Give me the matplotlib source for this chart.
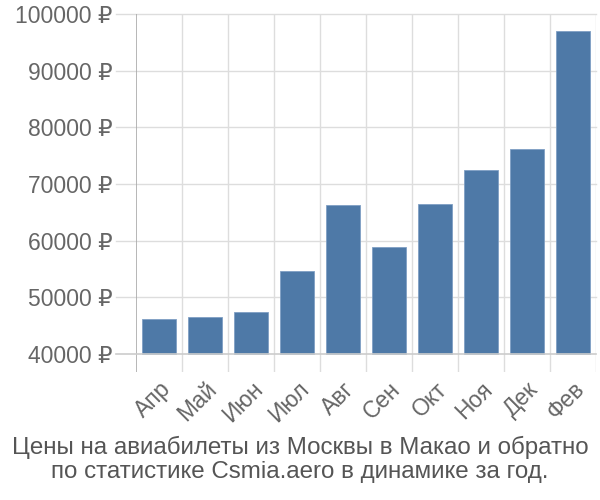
import matplotlib
matplotlib.use('Agg')
import matplotlib.pyplot as plt
import numpy as np

plt.rcParams['font.family'] = ['Liberation Sans', 'DejaVu Sans']

months = ['Апр', 'Май', 'Июн', 'Июл', 'Авг', 'Сен', 'Окт', 'Ноя', 'Дек', 'Фев']
prices = [46200, 46500, 47400, 54700, 66300, 58900, 66500, 72500, 76200, 97000]
yticks = [40000, 50000, 60000, 70000, 80000, 90000, 100000]
base = 40000

fig = plt.figure(figsize=(6, 5), dpi=100)
ax = fig.add_axes([136/600, 1-372/500, 460/600, 358/500])

x = np.arange(len(months))
ax.bar(x, [p - base for p in prices], bottom=base, width=0.72,
       color='#4e79a7', edgecolor='#7f9fc4', linewidth=0.6, zorder=3)

ax.set_xlim(-0.5, len(months) - 0.5)
ax.set_ylim(36850, 100000)

for s in ax.spines.values():
    s.set_visible(False)
ax.axvline(-0.5, color='#aaaaaa', lw=1.2, zorder=4)

# grid lines
for b in np.arange(0.5, len(months) - 0.5, 1):
    ax.axvline(b, color='#dddddd', lw=1, zorder=1)
ax.axvline(len(months) - 0.5, color='#dddddd', lw=1, zorder=1)
for t in yticks:
    ax.plot([-0.93, len(months) - 0.5], [t, t], color='#cccccc' if t == base else '#dddddd',
            lw=1.2 if t == base else 1, zorder=1 if t != base else 4, clip_on=False)

ax.set_yticks(yticks)
ax.set_yticklabels([f'{t} ₽' for t in yticks], color='#666666', fontsize=16.5)
ax.tick_params(axis='y', length=0, pad=17)
ax.set_xticks(x)
ax.set_xticklabels(months, rotation=45, ha='right', va='top', rotation_mode='anchor',
                   color='#666666', fontsize=16.5)
ax.tick_params(axis='x', length=0, pad=4)

fig.text(0.5, 1 - 447/500, 'Цены на авиабилеты из Москвы в Макао и обратно',
         ha='center', va='center', fontsize=17.4, color='#555555')
fig.text(0.5, 1 - 472/500, 'по статистике Csmia.aero в динамике за год.',
         ha='center', va='center', fontsize=17.4, color='#555555')

fig.savefig('out.png', dpi=100)
